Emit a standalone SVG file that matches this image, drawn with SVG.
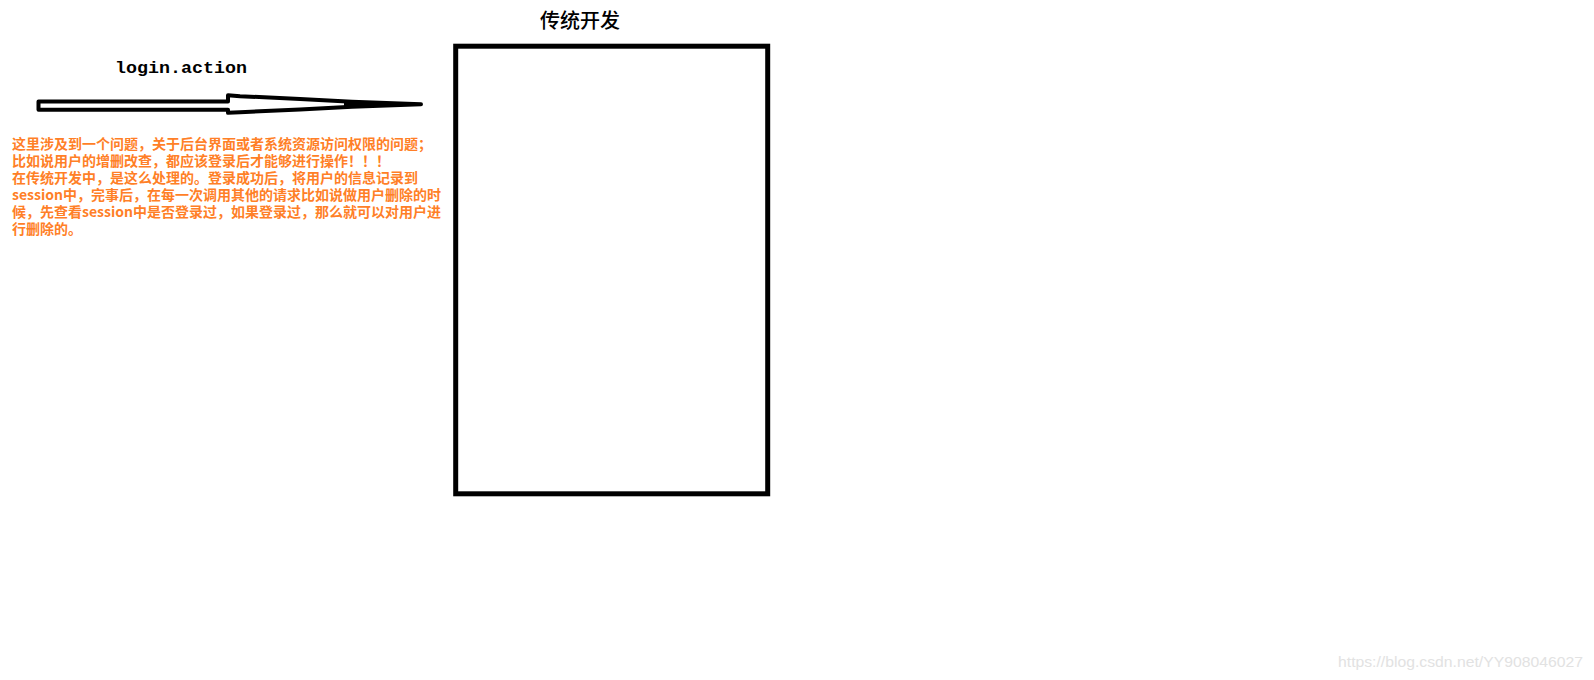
<svg xmlns="http://www.w3.org/2000/svg" width="1594" height="680" viewBox="0 0 1594 680">
<style>
.note{font-family:"Noto Sans CJK SC","Liberation Sans",sans-serif;font-size:14px;font-weight:bold;fill:#ff7f27}
.title{font-family:"Noto Sans CJK SC","Liberation Sans",sans-serif;font-size:20px;font-weight:500;fill:#000}
.label{font-family:"Liberation Mono",monospace;font-size:17px;font-weight:bold;fill:#000}
.wm{font-family:"Liberation Sans",sans-serif;font-size:15px;fill:#e2e2e2}
</style>
<rect width="1594" height="680" fill="#fff"/>
<g id="box-traditional">
  <rect x="455.7" y="46.2" width="312" height="447.6" fill="#fff" stroke="#000" stroke-width="5"/>
  <text class="title" x="580" y="28" text-anchor="middle">传统开发</text>
</g>
<g id="connectors">
  <path d="M38.5,101.4 L228,101.4 L228,95.2 L240,96.2 L300,99 L352,101.8 L421,104.3 L352,106.8 L300,109.5 L240,112.2 L228,112.8 L228,109.7 L38.5,109.7 Z" fill="#fff" stroke="#000" stroke-width="4" stroke-linejoin="round"/>
  <path d="M345,101.5 L421,104.3 L345,107.1 Z" fill="#000" stroke="#000" stroke-width="2"/>
  <text class="label" x="115" y="73" textLength="132" lengthAdjust="spacingAndGlyphs">login.action</text>
</g>
<g id="note">
  <text class="note" x="12" y="149">这里涉及到一个问题，关于后台界面或者系统资源访问权限的问题；</text>
  <text class="note" x="12" y="166">比如说用户的增删改查，都应该登录后才能够进行操作！！！</text>
  <text class="note" x="12" y="183">在传统开发中，是这么处理的。登录成功后，将用户的信息记录到</text>
  <text class="note" x="12" y="200">session中，完事后，在每一次调用其他的请求比如说做用户删除的时</text>
  <text class="note" x="12" y="217">候，先查看session中是否登录过，如果登录过，那么就可以对用户进</text>
  <text class="note" x="12" y="234">行删除的。</text>
</g>
<text class="wm" x="1338" y="667" textLength="245" lengthAdjust="spacingAndGlyphs">https://blog.csdn.net/YY908046027</text>
</svg>
